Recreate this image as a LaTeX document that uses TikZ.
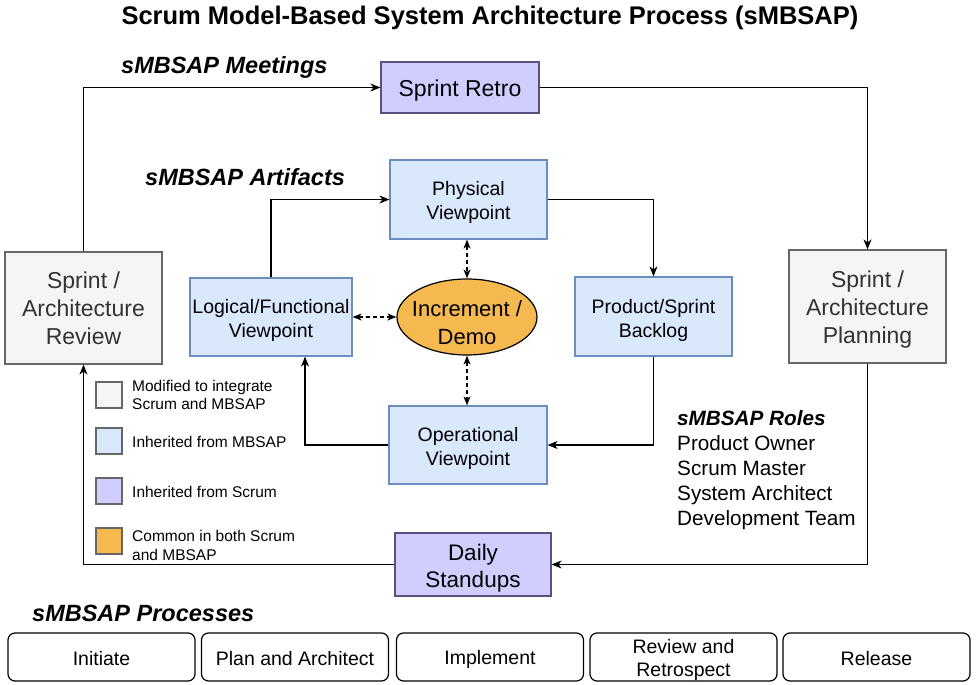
\documentclass[tikz,border=0pt]{standalone}
\usepackage{fontspec}
\setmainfont{Liberation Sans}
\usetikzlibrary{arrows.meta,shapes.geometric}
\definecolor{grayfill}{HTML}{F5F5F5}
\definecolor{graydraw}{HTML}{666666}
\definecolor{bluefill}{HTML}{DAE8FC}
\definecolor{bluedraw}{HTML}{6C8EBF}
\definecolor{purpfill}{HTML}{D0CEFF}
\definecolor{purpdraw}{HTML}{56517E}
\definecolor{orfill}{HTML}{F5B94F}
\tikzset{
  fs/.code={\pgfmathsetmacro\mybsk{#1*1.22}\edef\mytmp{\noexpand\tikzset{font=\noexpand\fontsize{#1}{\mybsk}\noexpand\selectfont}}\mytmp},
  graybox/.style={draw=graydraw,fill=grayfill,line width=1.2pt,inner sep=0pt},
  bluebox/.style={draw=bluedraw,fill=bluefill,line width=1.2pt,inner sep=0pt},
  purpbox/.style={draw=purpdraw,fill=purpfill,line width=1.2pt,inner sep=0pt},
  txt/.style={align=center,inner sep=0pt},
  graytxt/.style={txt,text=black!80,fs=23},
  bluetxt/.style={txt,fs=19.5},
  procbox/.style={draw=black,rounded corners=7pt,line width=1.2pt,minimum width=187,minimum height=48,inner sep=0pt},
  proctxt/.style={txt,fs=19.5},
  legsq/.style={draw=graydraw,line width=1.2pt,minimum width=26,minimum height=26,inner sep=0pt},
  legtxt/.style={anchor=west,align=left,fs=15.5,inner sep=0pt},
  heading/.style={font=\bfseries\itshape\fontsize{23.5}{28}\selectfont,anchor=west,inner sep=0pt},
  arr/.style={line width=1.3pt,-{Stealth[length=10pt,width=8pt,inset=3pt]}},
  darr/.style={line width=1.2pt,dashed,dash pattern=on 4pt off 3pt,{Stealth[length=9pt,width=7pt,inset=2.5pt]}-{Stealth[length=9pt,width=7pt,inset=2.5pt]}}
}
\begin{document}
\begin{tikzpicture}[x=1pt,y=-1pt]
\useasboundingbox (0,0) rectangle (980,685);
% title
\node[font=\bfseries\fontsize{25.5}{30}\selectfont,inner sep=0pt] (title) at (490,18) {Scrum Model-Based System Architecture Process (sMBSAP)};
\node[heading] (meet) at (121,67) {sMBSAP Meetings};
\node[heading] (artif) at (145,177) {sMBSAP Artifacts};
\node[heading] (proch) at (32,613) {sMBSAP Processes};
% meeting boxes
\node[purpbox,minimum width=158,minimum height=51] (retro) at (460,87.5) {};
\node[txt,fs=23] (retroT) at ([yshift=-3pt]retro.center) {Sprint Retro};
\node[graybox,minimum width=157,minimum height=112] (review) at (83.5,308) {};
\node[graytxt] (reviewT) at ([yshift=-0.5pt]review.center) {Sprint /\\Architecture\\Review};
\node[graybox,minimum width=157,minimum height=113] (planning) at (867.5,306.5) {};
\node[graytxt] (planningT) at ([yshift=-3pt]planning.center) {Sprint /\\Architecture\\Planning};
\node[purpbox,minimum width=156,minimum height=63] (standups) at (473,564.5) {};
\node[txt,fs=22.5] (standupsT) at ([yshift=-3.5pt]standups.center) {Daily\\Standups};
% artifacts
\node[bluebox,minimum width=157,minimum height=79] (physical) at (468.5,199.5) {};
\node[bluetxt] (physicalT) at ([yshift=-3pt]physical.center) {Physical\\Viewpoint};
\node[bluebox,minimum width=162,minimum height=78] (logical) at (271,317) {};
\node[bluetxt] (logicalT) at ([yshift=-3.5pt]logical.center) {Logical/Functional\\Viewpoint};
\node[bluebox,minimum width=157,minimum height=79] (backlog) at (653.5,316.5) {};
\node[bluetxt] (backlogT) at ([yshift=-4pt]backlog.center) {Product/Sprint\\Backlog};
\node[bluebox,minimum width=158,minimum height=78] (operational) at (468,445) {};
\node[bluetxt] (operationalT) at ([yshift=-3.5pt]operational.center) {Operational\\Viewpoint};
\node[ellipse,draw=black,fill=orfill,line width=1.2pt,minimum width=140,minimum height=76,inner sep=0pt] (incr) at (467,317) {};
\node[txt,font=\fontsize{22}{28}\selectfont] (incrT) at ([yshift=-5.5pt]incr.center) {Increment /\\Demo};
% artifact connectors
\draw[arr] (logical.north) |- (physical.west);
\draw[arr] (physical.east) -| (backlog.north);
\draw[arr] (backlog.south) |- (operational.east);
\draw[arr] (operational.west) -| ([xshift=34]logical.south);
\draw[darr] (physical.south -| incr.north) -- (incr.north);
\draw[darr] (logical.east) -- (incr.west);
\draw[darr] (incr.south) -- (incr.south |- operational.north);
% meeting connectors
\draw[arr] (review.north) |- (retro.west);
\draw[arr] (retro.east) -| (planning.north);
\draw[arr] (planning.south) |- (standups.east);
\draw[arr] (standups.west) -| (review.south);
% legend
\node[legsq,fill=grayfill] (lg1) at (109,395) {};
\node[legsq,fill=bluefill] (lg2) at (109,441) {};
\node[legsq,fill=purpfill] (lg3) at (109,491) {};
\node[legsq,fill=orfill] (lg4) at (109,541) {};
\node[legtxt] (lt1) at (132,395) {Modified to integrate\\Scrum and MBSAP};
\node[legtxt] (lt2) at (132,442) {Inherited from MBSAP};
\node[legtxt] (lt3) at (132,492) {Inherited from Scrum};
\node[legtxt] (lt4) at (132,545) {Common in both Scrum\\and MBSAP};
% roles
\node[anchor=north west,align=left,inner sep=0pt,font=\fontsize{20.7}{25}\selectfont] (roles) at (677,410)
  {{\bfseries\itshape sMBSAP Roles}\\Product Owner\\Scrum Master\\System Architect\\Development Team};
% processes
\node[procbox] (p1) at (101.5,657) {};
\node[procbox] (p2) at (295,657) {};
\node[procbox] (p3) at (490,657) {};
\node[procbox] (p4) at (683.5,657) {};
\node[procbox] (p5) at (876.5,657) {};
\node[proctxt] (p1T) at ([yshift=-2pt]p1.center) {Initiate};
\node[proctxt] (p2T) at ([yshift=-2pt]p2.center) {Plan and Architect};
\node[proctxt] (p3T) at ([yshift=-2pt]p3.center) {Implement};
\node[txt,font=\fontsize{19.5}{23}\selectfont] (p4T) at ([yshift=-3pt]p4.center) {Review and\\Retrospect};
\node[proctxt] (p5T) at ([yshift=-2pt]p5.center) {Release};
\end{tikzpicture}
\end{document}
